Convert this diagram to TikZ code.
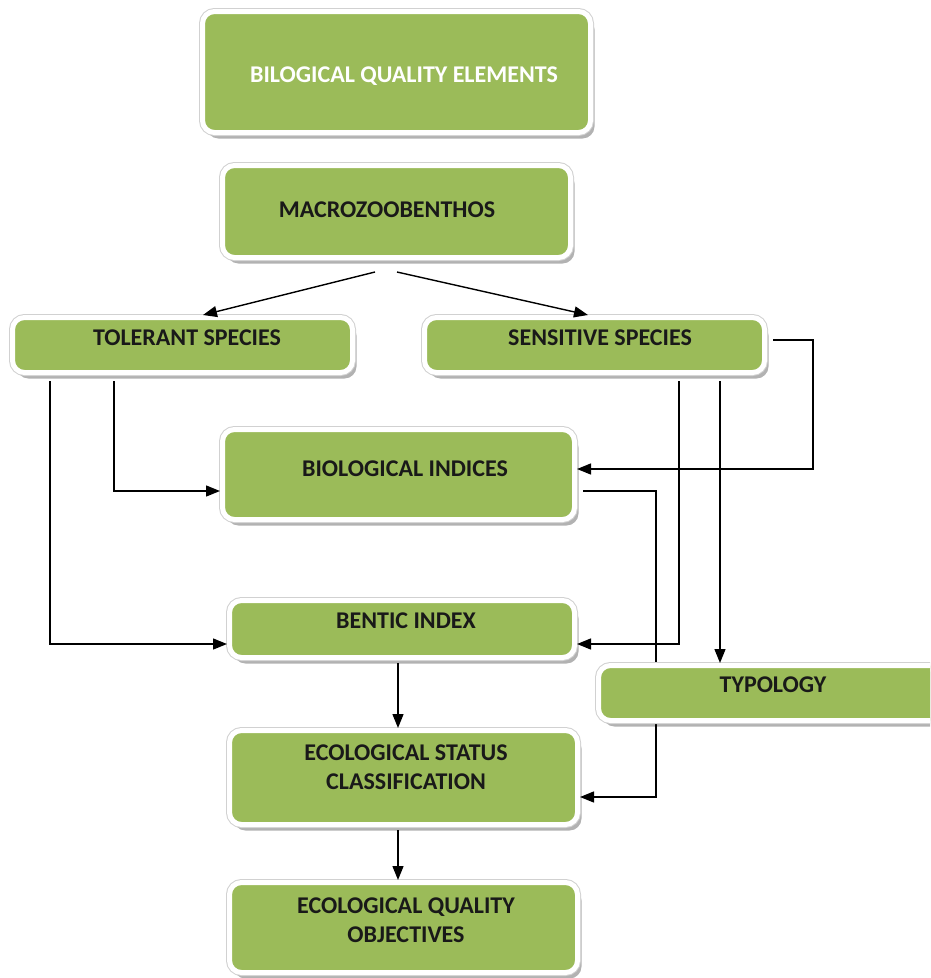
\documentclass[tikz,border=0pt]{standalone}
\usepackage{fontspec}
\setmainfont{Carlito}
\usetikzlibrary{arrows.meta,shadows}
\definecolor{boxgreen}{HTML}{9BBB59}
\newcommand\btxt[3]{\raisebox{#2}[0pt][0pt]{\makebox[0pt][c]{\hspace*{#1}\hspace*{#1}#3}}}
\newcommand\bttwo[4]{\raisebox{#2}[0pt][0pt]{\makebox[0pt][c]{\hspace*{#1}\hspace*{#1}\begin{tabular}[b]{@{}c@{}}#3\\#4\end{tabular}}}}
\begin{document}
\begin{tikzpicture}[x=1pt,y=-1pt,
  bx/.style={rounded corners=12pt, fill=boxgreen, draw=white, line width=5pt, inner sep=0pt,
    drop shadow={shadow xshift=4pt, shadow yshift=-6pt, fill=black, opacity=0.3},
    preaction={draw=black!18, line width=7pt},
    font=\bfseries\fontsize{24}{29}\selectfont, text=black!90},
  arr/.style={draw=black, line width=1.4pt, -{Triangle[length=14pt,width=11pt]}}]
\useasboundingbox (0,0) rectangle (930,978);
\clip (0,0) rectangle (930,978);

\node[bx, text=white, minimum width=388pt, minimum height=121pt] (bqe) at (396.5,72)
  {\btxt{7.5pt}{-10.7pt}{BILOGICAL QUALITY ELEMENTS}};
\node[bx, minimum width=348pt, minimum height=92pt] (macro) at (396.5,211.5)
  {\btxt{-9.5pt}{-6.2pt}{MACROZOOBENTHOS}};
\node[bx, minimum width=340pt, minimum height=55pt] (tol) at (182.5,345)
  {\btxt{4.5pt}{-0.7pt}{TOLERANT SPECIES}};
\node[bx, minimum width=340pt, minimum height=55pt] (sens) at (594.5,345)
  {\btxt{5.5pt}{-0.7pt}{SENSITIVE SPECIES}};
\node[bx, minimum width=352pt, minimum height=90pt] (bioind) at (398.5,474.5)
  {\btxt{6.5pt}{-2.2pt}{BIOLOGICAL INDICES}};
\node[bx, minimum width=345pt, minimum height=57pt] (bentic) at (402,629)
  {\btxt{4pt}{0.3pt}{BENTIC INDEX}};
\node[bx, minimum width=348pt, minimum height=94pt] (eco) at (403.5,777.5)
  {\bttwo{2.5pt}{-12.2pt}{ECOLOGICAL STATUS}{CLASSIFICATION}};
\node[bx, minimum width=348pt, minimum height=90pt] (qual) at (403.5,927.5)
  {\bttwo{2.5pt}{-15.2pt}{ECOLOGICAL QUALITY}{OBJECTIVES}};

\coordinate (m1) at (375,272);
\coordinate (m2) at (397,272);
\draw[arr] (m1) -- (tol.north -| 203,0);
\draw[arr] (m2) -- (sens.north -| 588,0);

\draw[arr, shorten <=6pt] (tol.south -| 50,0) |- (bentic.west |- 0,644);
\draw[arr, shorten <=6pt] (tol.south -| 114,0) |- (bioind.west |- 0,491);
\draw[arr, shorten <=6pt] (sens.east |- 0,340) -- (813,340) -- (813,469) -- (bioind.east |- 0,469);
\draw[arr, shorten <=6pt] (sens.south -| 679,0) |- (bentic.east |- 0,644);
\draw[arr, shorten <=6pt] (bioind.east |- 0,491) -- (656,491) -- (656,797) -- (eco.east |- 0,797);
\draw[arr, shorten <=3pt] (bentic.south -| 398,0) -- (eco.north -| 398,0);
\draw[arr, shorten <=3pt] (eco.south -| 398,0) -- (qual.north -| 398,0);

\node[bx, minimum width=345pt, minimum height=55pt] (typ) at (771,693)
  {\btxt{2pt}{0.3pt}{TYPOLOGY}};
\draw[arr, shorten <=6pt] (sens.south -| 720,0) -- (typ.north -| 720,0);
\end{tikzpicture}
\end{document}
